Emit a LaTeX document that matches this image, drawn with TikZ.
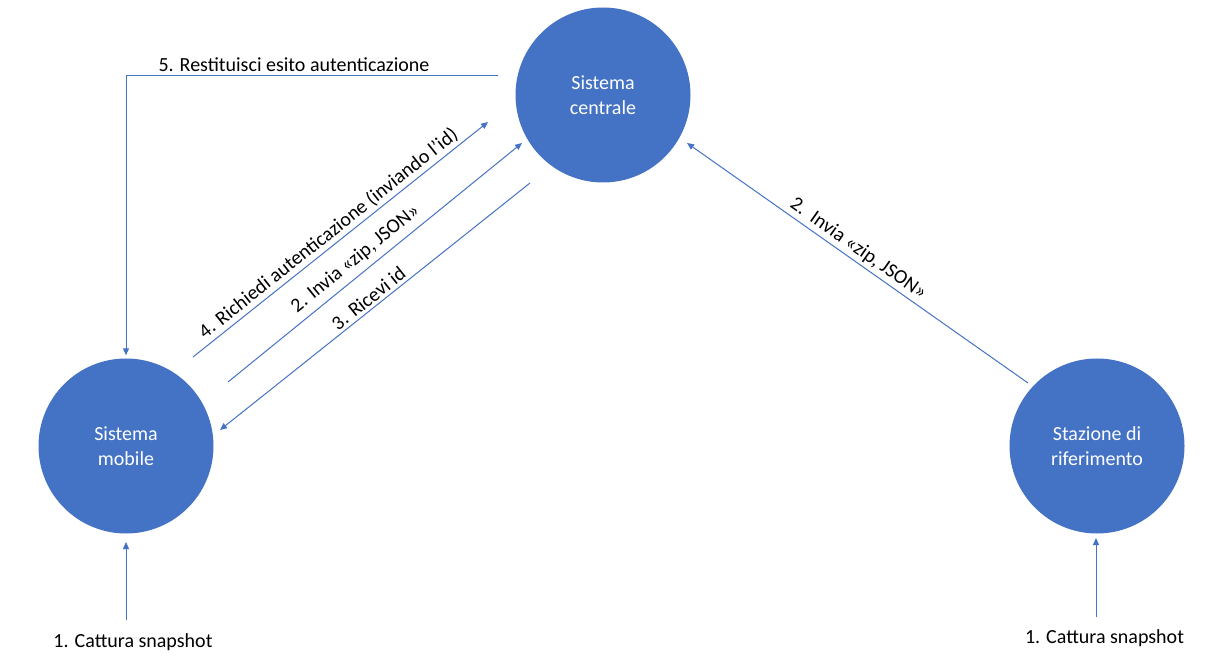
\documentclass[tikz,border=0pt]{standalone}
\usepackage{fontspec}
\setmainfont{Carlito}
\usetikzlibrary{arrows.meta}
\definecolor{obl}{HTML}{4472C4}
\begin{document}
\begin{tikzpicture}[x=1pt,y=1pt,
  every node/.style={font=\fontsize{20}{24.4}\selectfont},
  circ/.style={circle,fill=obl,minimum size=175pt,inner sep=0pt,text=white,align=center},
  conn/.style={draw=obl,line width=1pt,-{Triangle[length=7pt,width=6pt]}},
  lab/.style={sloped,above,inner sep=3pt,text=black}]
\useasboundingbox (0,0) rectangle (1215,662);
\node[circ] (cc) at (603,567) {Sistema\\centrale};
\node[circ] (sm) at (126,216) {Sistema\\mobile};
\node[circ] (sr) at (1097,216) {Stazione di\\riferimento};
% free ends
\coordinate (c5) at (498,586);
\coordinate (a4) at (193,305);
\coordinate (b4) at (488,540);
\coordinate (a2) at (228,280);
\coordinate (b2) at (522,519);
\coordinate (a3) at (530,479);
\coordinate (b3) at (220,232);
\coordinate (a2r) at (1028,279);
\coordinate (b2r) at (687,519);
\coordinate (s1) at (126,42);
\coordinate (t1) at (126,120);
\coordinate (s2) at (1096,45);
\coordinate (t2) at (1096,124);
% connectors
\draw[conn] (c5) -| ([yshift=3pt]sm.north);
\node[anchor=base west] (l5) at (155,590) {5. Restituisci esito autenticazione};
\draw[conn] (a4) -- (b4) node[lab,pos=0.485] (l4) {4. Richiedi autenticazione (inviando l’id)};
\draw[conn] (a2) -- (b2) node[lab,pos=0.466,inner sep=6pt] (l2) {2. Invia «zip, JSON»};
\draw[conn] (a3) -- (b3) node[lab,pos=0.5] (l3) {3. Ricevi id};
\draw[conn] (a2r) -- (b2r) node[lab,pos=0.518] (l2r) {2.\ \ Invia «zip, JSON»};
\draw[conn] (s1) -- (t1);
\draw[conn] (s2) -- (t2);
\node[anchor=base] (l1) at (133,15) {1. Cattura snapshot};
\node[anchor=base] (l1r) at (1104.5,19) {1. Cattura snapshot};
\end{tikzpicture}
\end{document}
